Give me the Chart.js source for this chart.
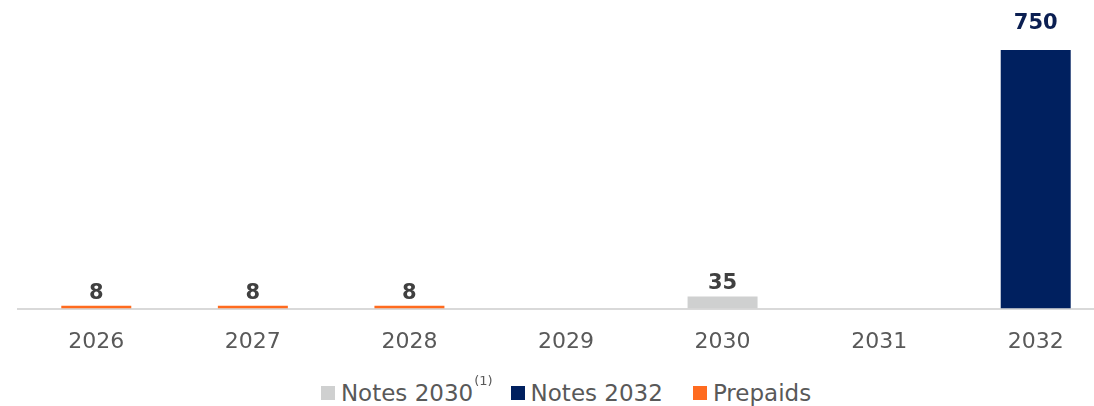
<!DOCTYPE html>
<html>
<head>
  <title>Maturity schedule</title>
  <meta name="viewport" content="width=device-width, initial-scale=1.0">
  <style>
    body {
      background: #fff;
      margin: 0;
      overflow: hidden;
      font-family: 'DejaVu Sans', sans-serif;
    }
    .wrap {
      position: relative;
      width: 1132px;
      height: 406px;
    }
    .chartBox {
      position: relative;
      width: 1132px;
      height: 375px;
    }
    .legend {
      display: flex;
      justify-content: center;
      align-items: center;
      gap: 30px;
      margin-top: 5px;
      font-size: 23px;
      line-height: 26px;
      color: #595959;
    }
    .legend .item {
      display: flex;
      align-items: center;
    }
    .legend .box {
      width: 14px;
      height: 14px;
      margin-right: 6px;
    }
    .legend sup {
      font-size: 13px;
      position: relative;
      top: -12px;
      margin-left: 1px;
      margin-right: -12px;
    }
  </style>
</head>
<body>
  <div class="wrap">
    <div class="chartBox"><canvas id="debtChart"></canvas></div>
    <div class="legend" id="legend"></div>
  </div>

  <script src="https://cdn.jsdelivr.net/npm/chart.js"></script>
  <script>
    const years = ["2026", "2027", "2028", "2029", "2030", "2031", "2032"];
    const notes2030 = [null, null, null, null, 35, null, null];
    const notes2032 = [null, null, null, null, null, null, 750];
    const prepaids = [8, 8, 8, null, null, null, null];

    const seriesNames = ["Notes 2030", "Notes 2032", "Prepaids"];
    const seriesNotes = ["(1)", "", ""];
    const seriesColors = ["#cfd0d0", "#00205f", "#ff6b1f"];
    const labelColors = ["#404040", "#0b1f52", "#404040"];

    // values above the bars
    const valueLabels = {
      id: "valueLabels",
      afterDatasetsDraw(chart) {
        const ctx = chart.ctx;
        ctx.save();
        ctx.font = "bold 21px 'DejaVu Sans', sans-serif";
        ctx.textAlign = "center";
        ctx.textBaseline = "bottom";
        chart.data.datasets.forEach((ds, i) => {
          chart.getDatasetMeta(i).data.forEach((bar, j) => {
            const v = ds.data[j];
            if (v === null || v === undefined) return;
            const gap = bar.y < 100 ? 16 : 2;
            ctx.fillStyle = labelColors[i];
            ctx.fillText(v, bar.x, bar.y - gap);
          });
        });
        ctx.restore();
      }
    };

    const chartCtx = document.getElementById("debtChart").getContext("2d");
    const chart = new Chart(chartCtx, {
      type: "bar",
      data: {
        labels: years,
        datasets: [
          { label: seriesNames[0], data: notes2030, backgroundColor: seriesColors[0] },
          { label: seriesNames[1], data: notes2032, backgroundColor: seriesColors[1] },
          { label: seriesNames[2], data: prepaids, backgroundColor: seriesColors[2] }
        ]
      },
      options: {
        responsive: true,
        maintainAspectRatio: false,
        animation: false,
        layout: { padding: { top: 50, left: 18, right: 18, bottom: 0 } },
        datasets: {
          bar: { categoryPercentage: 1, barPercentage: 0.447, borderWidth: 0 }
        },
        plugins: {
          legend: { display: false },
          tooltip: { enabled: false }
        },
        scales: {
          x: {
            stacked: true,
            grid: { display: false, drawTicks: false },
            border: { display: true, color: "#d9d9d9", width: 2 },
            ticks: {
              color: "#595959",
              padding: 20,
              font: { family: "'DejaVu Sans', sans-serif", size: 22 }
            }
          },
          y: {
            stacked: true,
            display: false,
            min: 0,
            max: 750
          }
        }
      },
      plugins: [valueLabels]
    });

    const legendEl = document.getElementById("legend");
    seriesNames.forEach((name, i) => {
      const item = document.createElement("div");
      item.className = "item";
      const box = document.createElement("span");
      box.className = "box";
      box.style.background = seriesColors[i];
      const text = document.createElement("span");
      text.textContent = name;
      item.appendChild(box);
      item.appendChild(text);
      if (seriesNotes[i]) {
        const sup = document.createElement("sup");
        sup.textContent = seriesNotes[i];
        item.appendChild(sup);
      }
      legendEl.appendChild(item);
    });
  </script>
</body>
</html>
